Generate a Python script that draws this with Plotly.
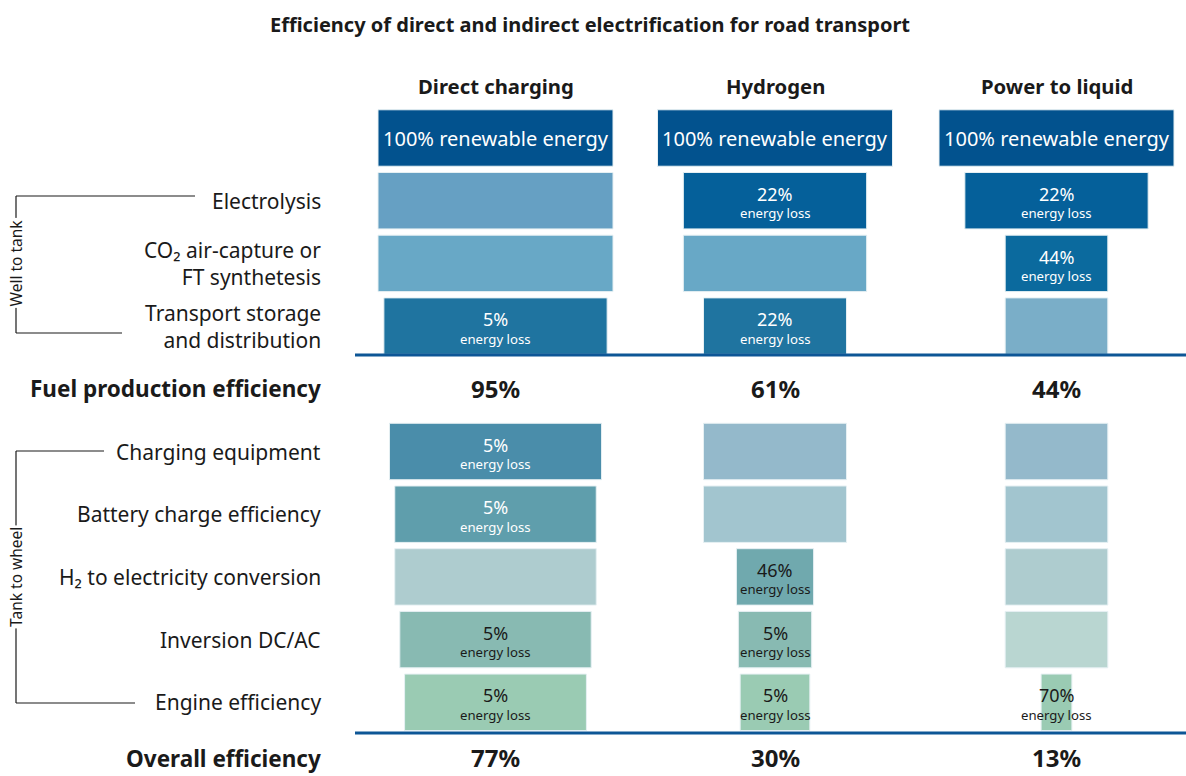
import plotly.graph_objects as go

# data
pathways = ["Direct charging", "Hydrogen", "Power to liquid"]
steps = ["Electrolysis", "CO₂ air-capture or<br>FT synthetesis", "Transport storage<br>and distribution",
         "Charging equipment", "Battery charge efficiency", "H₂ to electricity conversion",
         "Inversion DC/AC", "Engine efficiency"]
loss_direct = [0, 0, 5, 5, 5, 0, 5, 5]
loss_hydrogen = [22, 0, 22, 0, 0, 46, 5, 5]
loss_ptl = [22, 44, 0, 0, 0, 0, 0, 70]
fuel_eff = [95, 61, 44]
overall_eff = [77, 30, 13]

# style
font = "Noto Sans"
dark = "#1a1a1a"
line_blue = "#0d5696"
top_color = "#02528e"
active_colors = ["#05609a", "#0b6a9e", "#1f74a0", "#4a8daa", "#5f9eac", "#70a9ae", "#88bab2", "#9acbb3"]
idle_colors = ["#66a0c3", "#68a8c6", "#7aaec8", "#94b9cb", "#a2c5cf", "#aecccf", "#b9d6d1", "#c0ddd4"]

# layout positions (x in pixels, y in rows)
centers = [495.5, 775, 1056.5]
full_w = 235
step_rows = [1, 2, 3, 5, 6, 7, 8, 9]
fuel_row = 4
overall_row = 10
px_row = 62.7


def r(py):
    return (py - 138) / px_row


fig = go.Figure()
annotations = []

for k, losses in enumerate([loss_direct, loss_hydrogen, loss_ptl]):
    c = centers[k]
    widths = [full_w]
    colors = [top_color]
    remaining = 1.0
    for i, loss in enumerate(losses):
        remaining *= 1 - loss / 100
        widths.append(full_w * remaining)
        colors.append(active_colors[i] if loss > 0 else idle_colors[i])
        if loss > 0:
            tc = "white" if step_rows[i] <= 6 else dark
            annotations.append(dict(x=c, y=step_rows[i] - 0.11, text="%d%%" % loss, showarrow=False,
                                    font=dict(family=font, size=18, color=tc)))
            annotations.append(dict(x=c, y=step_rows[i] + 0.2, text="energy loss", showarrow=False,
                                    font=dict(family=font, size=13.2, color=tc)))
    fig.add_trace(go.Bar(
        y=[0] + step_rows, x=widths, base=[c - w / 2 for w in widths],
        orientation="h", width=0.9, marker=dict(color=colors, line=dict(color="#e6f0f3", width=1)),
        hoverinfo="skip"))
    annotations.append(dict(x=c, y=0, text="100% renewable energy", showarrow=False,
                            font=dict(family=font, size=20, color="white")))
    annotations.append(dict(x=c, y=-0.83, text="<b>%s</b>" % pathways[k], showarrow=False,
                            font=dict(family=font, size=20.3, color=dark)))
    annotations.append(dict(x=c, y=fuel_row, text="<b>%d%%</b>" % fuel_eff[k], showarrow=False,
                            font=dict(family=font, size=24, color=dark)))
    annotations.append(dict(x=c, y=r(776), yanchor="bottom", text="<b>%d%%</b>" % overall_eff[k],
                            showarrow=False, font=dict(family=font, size=24, color=dark)))

# row labels
for i, s in enumerate(steps):
    annotations.append(dict(x=323, y=step_rows[i], text=s, showarrow=False, xanchor="right", align="right",
                            font=dict(family=font, size=21, color=dark)))
annotations.append(dict(x=323, y=fuel_row, text="<b>Fuel production efficiency</b>", showarrow=False,
                        xanchor="right", font=dict(family=font, size=22.5, color=dark)))
annotations.append(dict(x=323, y=r(776), yanchor="bottom", text="<b>Overall efficiency</b>", showarrow=False,
                        xanchor="right", font=dict(family=font, size=22.5, color=dark)))
annotations.append(dict(x=16, y=2, text="Well to tank", showarrow=False, textangle=-90, bgcolor="white",
                        font=dict(family=font, size=15.5, color=dark)))
annotations.append(dict(x=16, y=7, text="Tank to wheel", showarrow=False, textangle=-90, bgcolor="white",
                        font=dict(family=font, size=15.5, color=dark)))
annotations.append(dict(x=590, y=1 - 24 / 776, yref="paper", yanchor="middle",
                        text="<b>Efficiency of direct and indirect electrification for road transport</b>",
                        showarrow=False, font=dict(family=font, size=20, color=dark)))

shapes = [
    dict(type="line", x0=355, x1=1186, y0=r(355), y1=r(355), line=dict(color=line_blue, width=3)),
    dict(type="line", x0=355, x1=1186, y0=r(733), y1=r(733), line=dict(color=line_blue, width=3)),
    # well to tank bracket
    dict(type="line", x0=16, x1=195, y0=r(196), y1=r(196), line=dict(color=dark, width=1.2)),
    dict(type="line", x0=16, x1=16, y0=r(196), y1=r(333), line=dict(color=dark, width=1.2)),
    dict(type="line", x0=16, x1=122, y0=r(333), y1=r(333), line=dict(color=dark, width=1.2)),
    # tank to wheel bracket
    dict(type="line", x0=16, x1=104, y0=r(451), y1=r(451), line=dict(color=dark, width=1.2)),
    dict(type="line", x0=16, x1=16, y0=r(451), y1=r(703), line=dict(color=dark, width=1.2)),
    dict(type="line", x0=16, x1=135, y0=r(703), y1=r(703), line=dict(color=dark, width=1.2)),
]

fig.update_layout(
    width=1186, height=776, margin=dict(l=0, r=0, t=0, b=0),
    paper_bgcolor="white", plot_bgcolor="white", showlegend=False, barmode="overlay",
    xaxis=dict(range=[0, 1186], visible=False, fixedrange=True),
    yaxis=dict(range=[r(776), r(0)], visible=False, fixedrange=True),
    annotations=annotations, shapes=shapes,
)

fig.write_html("out.html", config={"displayModeBar": False},
               post_script="document.body.style.margin='0';document.body.style.overflow='hidden';")
